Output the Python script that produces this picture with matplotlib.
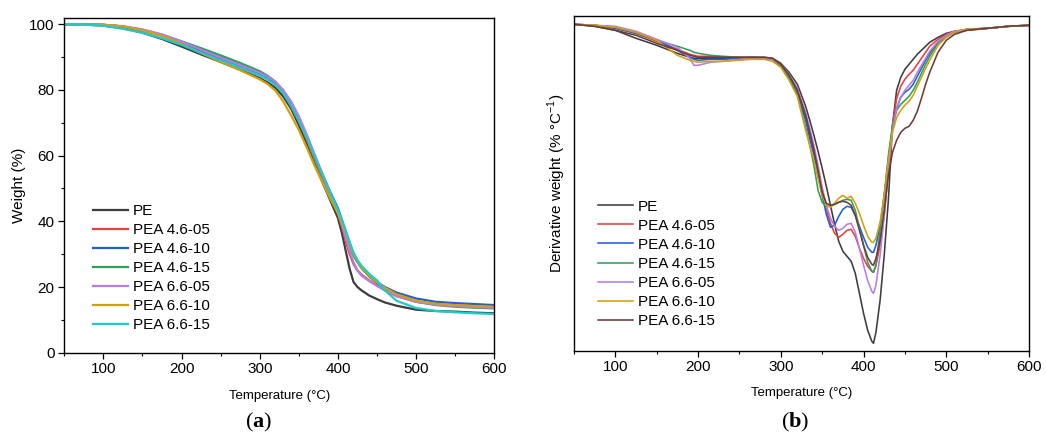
import matplotlib
matplotlib.use("Agg")
import matplotlib.pyplot as plt

plt.rcParams['font.family'] = ['Liberation Sans', 'DejaVu Sans']
plt.rcParams['mathtext.fontset'] = 'custom'
plt.rcParams['mathtext.bf'] = 'Liberation Serif:bold'
plt.rcParams['mathtext.rm'] = 'Liberation Sans'

labels_a = ["PE", "PEA 4.6-05", "PEA 4.6-10", "PEA 4.6-15", "PEA 6.6-05", "PEA 6.6-10", "PEA 6.6-15"]
labels_b = ["PE", "PEA 4.6-05", "PEA 4.6-10", "PEA 4.6-15", "PEA 6.6-05", "PEA 6.6-10", "PEA 6.6-15"]
colors_a = ["#3d3d3d", "#f03c3c", "#1f5fd8", "#2ea05a", "#b87ce8", "#d3a00c", "#1ccccc"]
colors_b = ["#3d3d3d", "#f03c3c", "#1f5fd8", "#2ea05a", "#b87ce8", "#d3a00c", "#6e3b3b"]

# ---------------- TGA (a) ----------------
T_tga = [50, 75, 100, 125, 150, 175,
         200, 225, 250, 275, 300,
         310, 320, 330, 340, 350,
         360, 370, 380, 390, 400,
         405, 410, 415, 420, 425,
         430, 440, 450, 460, 475,
         500, 525, 550, 575, 600]

w_pe = [100, 99.9, 99.6, 98.8, 97.4, 95.5,
        93.2, 90.8, 88.5, 86.1, 83.6,
        82.3, 80.6, 78, 74.3, 69.3,
        63.5, 57.5, 52, 46.5, 41,
        36.5, 31, 25.5, 21.5, 20,
        19, 17.4, 16.3, 15.3, 14.3,
        13.1, 12.7, 12.5, 12.2, 12]
w_46_05 = [100, 99.95, 99.8, 99.3, 98.2, 96.5,
           94.2, 91.8, 89.5, 87.2, 84.6,
           83.3, 81.5, 79, 75, 70.5,
           65, 59, 53.5, 48, 42.5,
           38.5, 34, 30, 27, 25,
           23.8, 22, 20.5, 19, 17.2,
           15.5, 14.8, 14.4, 14.1, 13.8]
w_46_10 = [100, 99.95, 99.8, 99.3, 98.2, 96.6,
           94.5, 92.1, 89.8, 87.5, 85,
           83.7, 82, 79.3, 76, 71.3,
           66, 60, 54.5, 49, 44,
           40.5, 37, 33.5, 30, 27.8,
           26, 23.5, 21.5, 20, 18.3,
           16.5, 15.5, 15.1, 14.8, 14.5]
w_46_15 = [100, 99.95, 99.8, 99.3, 98.3, 96.8,
           94.8, 92.7, 90.5, 88.2, 85.7,
           84.3, 82.5, 79.6, 75.8, 71,
           65.5, 59.5, 54, 48.5, 43,
           39.5, 36, 32.5, 29.5, 27.5,
           25.8, 23.2, 21.2, 19.5, 17.5,
           15.5, 14.5, 14, 13.7, 13.5]
w_66_05 = [100, 99.95, 99.85, 99.4, 98.4, 96.9,
           94.7, 92.2, 89.8, 87.5, 85.2,
           84, 82.5, 80, 76.5, 72,
           66.5, 60.5, 54.5, 48.5, 42.5,
           39, 35, 31, 27.5, 25,
           23.5, 21.8, 20.3, 19, 17.3,
           15.5, 14.6, 14.2, 13.9, 13.7]
w_66_10 = [100, 99.95, 99.8, 99.3, 98.1, 96.5,
           94, 91.2, 88.5, 86, 83.2,
           81.8, 79.8, 76.5, 72.3, 67.8,
           62.5, 57, 52, 47, 42.5,
           39.5, 36.5, 33, 30, 27.8,
           26, 23.5, 21.5, 19.8, 17.8,
           15.8, 14.9, 14.5, 14.2, 14]
w_66_15 = [100, 99.9, 99.5, 98.6, 97.4, 95.7,
           93.7, 91.3, 89, 86.8, 84.4,
           83.2, 81.5, 79, 75.3, 70.5,
           65.5, 59.8, 54.2, 48.8, 43.5,
           40.5, 37, 33.5, 30.5, 28.2,
           26.5, 24, 22, 19, 15.8,
           13.6, 12.7, 12.3, 12, 11.8]

# ---------------- DTG (b), arbitrary units (axis unlabeled) ----------------
T_dtg = [50, 75, 100, 125, 150, 175,
         190, 195, 200, 215, 230,
         250, 265, 280, 290, 300,
         310, 320, 330, 335, 340,
         345, 350, 355, 360, 365,
         370, 375, 380, 385, 390,
         395, 400, 405, 410, 412,
         415, 420, 425, 430, 435,
         440, 445, 450, 455, 460,
         465, 470, 475, 480, 490,
         500, 510, 525, 550, 575,
         600]

d_pe = [0, -2, -6, -14, -21, -29,
        -33, -34, -34, -34, -34,
        -34, -33, -33, -34, -39,
        -48, -60, -82, -96, -111,
        -127, -144, -162, -181, -200,
        -217, -227, -232, -237, -249,
        -269, -289, -306, -317, -319,
        -308, -276, -231, -176, -101,
        -66, -53, -45, -40, -35,
        -30, -26, -22, -18, -13,
        -9, -7, -6, -4, -2,
        -1]
d_46_05 = [0, -1, -4, -9, -17, -25,
           -30, -31, -32, -32, -33,
           -33, -33, -34, -35, -41,
           -52, -67, -93, -109, -126,
           -146, -166, -184, -199, -209,
           -213, -210, -206, -205, -212,
           -224, -234, -242, -247, -248,
           -241, -221, -191, -146, -101,
           -74, -62, -55, -50, -46,
           -40, -34, -28, -22, -15,
           -10, -7, -5, -4, -2,
           -1]
d_46_10 = [0, -1, -4, -9, -16, -26,
           -33, -35, -36, -35, -35,
           -34, -34, -34, -35, -41,
           -53, -69, -96, -114, -131,
           -151, -171, -190, -203, -201,
           -192, -185, -182, -183, -191,
           -202, -213, -223, -228, -228,
           -221, -201, -171, -136, -104,
           -84, -73, -68, -65, -60,
           -52, -44, -36, -29, -18,
           -11, -8, -5, -4, -2,
           -1]
d_46_15 = [0, -1, -3, -8, -16, -22,
           -26, -28, -29, -31, -32,
           -33, -33, -34, -35, -42,
           -54, -71, -103, -121, -141,
           -166, -178, -182, -182, -180,
           -178, -176, -175, -176, -186,
           -204, -221, -238, -247, -248,
           -241, -206, -171, -131, -101,
           -86, -80, -76, -72, -66,
           -58, -49, -40, -32, -19,
           -12, -8, -5, -4, -2,
           -1]
d_66_05 = [0, -1, -2, -7, -15, -23,
           -34, -41, -41, -38, -37,
           -35, -34, -34, -35, -40,
           -50, -64, -88, -104, -121,
           -141, -163, -181, -194, -202,
           -206, -204, -200, -199, -208,
           -224, -241, -256, -267, -269,
           -261, -231, -191, -146, -106,
           -84, -73, -66, -61, -56,
           -48, -41, -34, -27, -17,
           -11, -7, -5, -4, -2,
           -1]
d_66_10 = [0, -1, -3, -8, -16, -31,
           -36, -37, -38, -37, -37,
           -36, -35, -35, -37, -43,
           -56, -72, -106, -121, -136,
           -154, -171, -181, -183, -179,
           -174, -171, -174, -172, -179,
           -189, -201, -212, -218, -218,
           -214, -198, -171, -136, -108,
           -93, -86, -81, -77, -71,
           -62, -53, -44, -36, -21,
           -13, -8, -5, -4, -2,
           -1]
d_66_15 = [0, -2, -6, -11, -19, -26,
           -31, -32, -33, -33, -33,
           -33, -33, -33, -34, -40,
           -51, -66, -91, -108, -126,
           -146, -168, -179, -181, -180,
           -178, -177, -178, -181, -191,
           -206, -221, -233, -240, -241,
           -234, -216, -186, -151, -128,
           -116, -108, -104, -102, -96,
           -87, -74, -60, -48, -28,
           -16, -10, -6, -4, -2,
           -1]

tga_series = [w_pe, w_46_05, w_46_10, w_46_15, w_66_05, w_66_10, w_66_15]
dtg_series = [d_pe, d_46_05, d_46_10, d_46_15, d_66_05, d_66_10, d_66_15]

W, H = 1046, 432
fig = plt.figure(figsize=(W / 100, H / 100), dpi=100)

def box(l, t, r, b):
    return [l / W, 1 - b / H, (r - l) / W, (b - t) / H]

ax1 = fig.add_axes(box(64.3, 18.3, 494.3, 352.7))
ax2 = fig.add_axes(box(574, 16, 1029, 350.7))

for ys, c, lab in zip(tga_series, colors_a, labels_a):
    ax1.plot(T_tga, ys, color=c, lw=1.6, label=lab)
for ys, c, lab in zip(dtg_series, colors_b, labels_b):
    ax2.plot(T_dtg, ys, color=c, lw=1.15, label=lab)

for ax in (ax1, ax2):
    ax.set_xlim(50, 600)
    ax.set_xticks([100, 200, 300, 400, 500, 600])
    ax.set_xticks(list(range(50, 601, 50)), minor=True)
    ax.tick_params(axis='both', which='major', direction='out', length=4, width=0.9,
                   labelsize=11, pad=3)
    ax.tick_params(axis='both', which='minor', direction='out', length=2.5, width=0.8)
    for s in ax.spines.values():
        s.set_linewidth(1.0)
        s.set_color('black')

ax1.set_xlabel("Temperature (°C)", fontsize=9.5, labelpad=10)
ax2.set_xlabel("Temperature (°C)", fontsize=9.5, labelpad=9)

ax1.set_ylim(0, 101.8)
ax1.set_yticks([0, 20, 40, 60, 80, 100])
ax1.set_yticks(list(range(0, 101, 10)), minor=True)
ax1.set_ylabel("Weight (%)", fontsize=11, labelpad=2)

ax2.set_ylim(-326.4, 8.3)
ax2.set_yticks([])
ax2.set_yticks([], minor=True)
ax2.set_ylabel("Derivative weight (% °C$^{-1}$)", fontsize=11, labelpad=4)

leg_kw = dict(frameon=False, fontsize=11, handlelength=2.3, handletextpad=0.33,
              labelspacing=0.33, borderpad=0, borderaxespad=0, loc='upper left')
ax1.legend(bbox_to_anchor=(0.0667, 0.4447), **leg_kw)
leg2 = ax2.legend(bbox_to_anchor=(0.0527, 0.451), **leg_kw)
for l in leg2.get_lines():
    l.set_linewidth(1.15)

fig.text(259 / W, 1 - 422 / H, "(" + r"$\mathbf{a}$" + ")", family='Liberation Serif',
         fontsize=16, ha='center', va='center')
fig.text(795 / W, 1 - 422 / H, "(" + r"$\mathbf{b}$" + ")", family='Liberation Serif',
         fontsize=16, ha='center', va='center')

fig.savefig("out.png", dpi=100)
